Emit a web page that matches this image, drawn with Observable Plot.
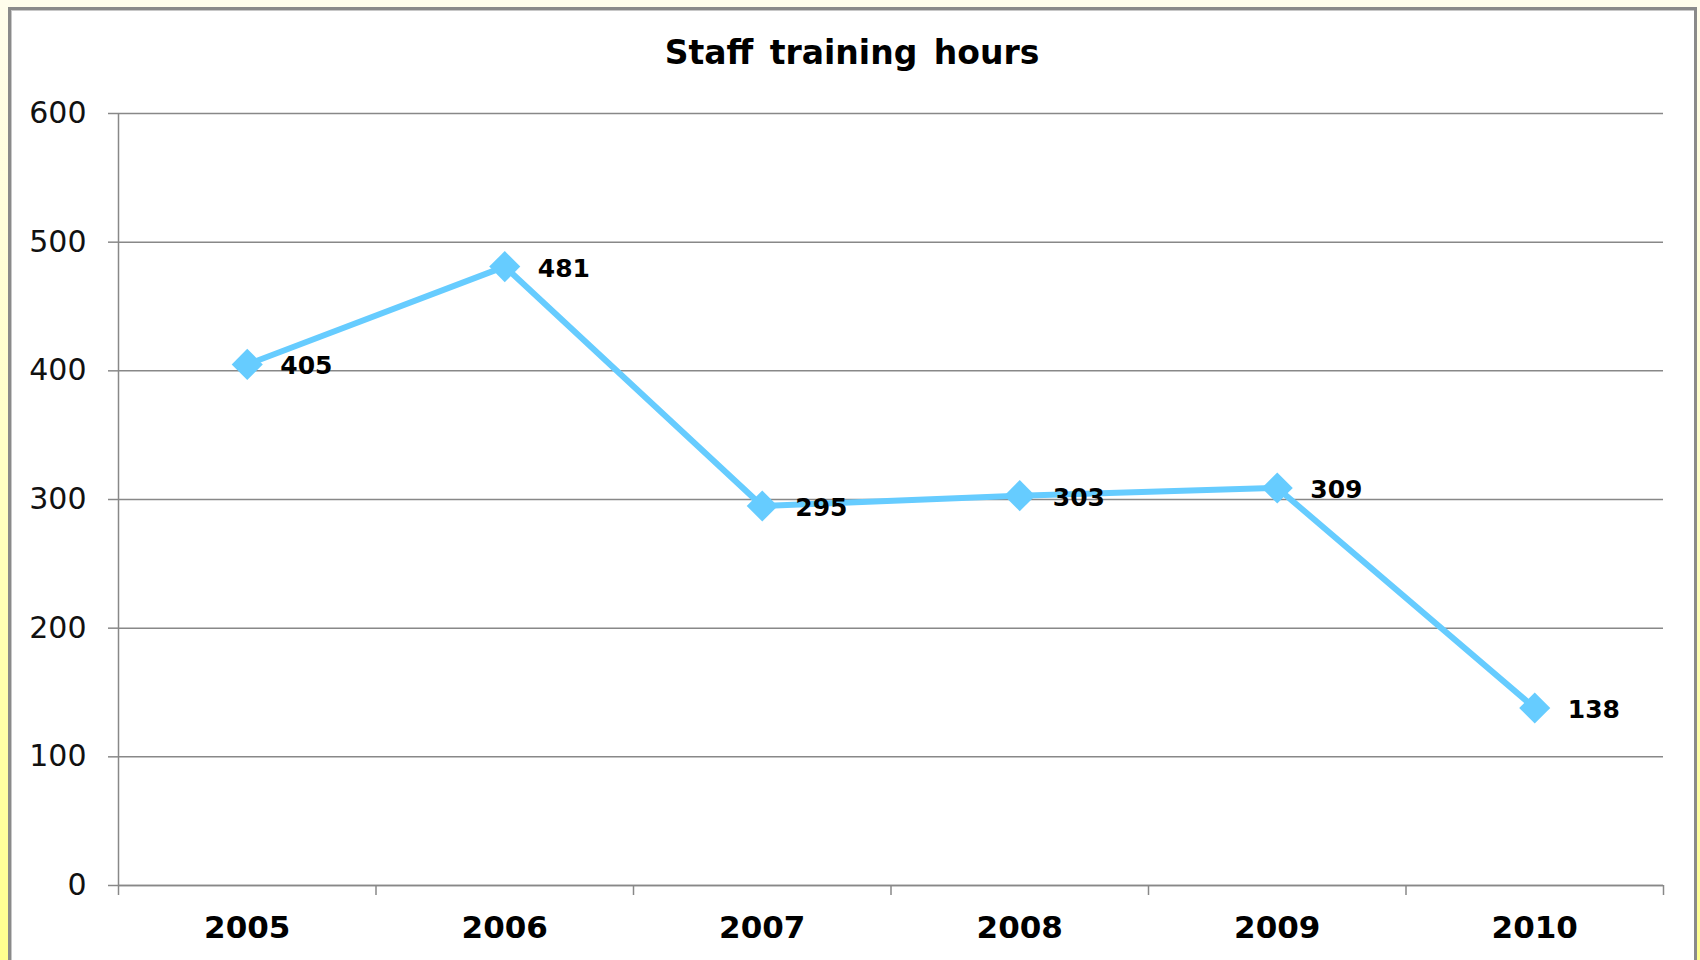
<!DOCTYPE html>
<html>
<head>
<meta charset="utf-8">
<script src="https://cdn.jsdelivr.net/npm/d3@7"></script>
<script src="https://cdn.jsdelivr.net/npm/@observablehq/plot@0.6"></script>
<style>
  html, body { margin: 0; padding: 0; }
  body {
    width: 1700px; height: 960px; overflow: hidden; position: relative;
    background: linear-gradient(#fffdec, #ffffc8 45%, #ffff8e);
    font-family: "DejaVu Sans", Verdana, sans-serif;
  }
  #panel {
    position: absolute; left: 8px; top: 7px; width: 1689px; height: 1010px;
    box-sizing: border-box; background: #fff;
    border: 3px solid #8a8a8a;
    box-shadow: inset 1px 1px 0 #c8c8c8;
  }
  #title {
    position: absolute; left: 0; top: 33px; width: 1704px; text-align: center;
    font-size: 33px; line-height: 40px; font-weight: bold; color: #000;
    word-spacing: 5px;
  }
  #chart { position: absolute; left: 0; top: 0; }
  #chart svg { overflow: visible; }
</style>
</head>
<body>
<div id="panel"></div>
<div id="title">Staff training hours</div>
<div id="chart"></div>
<script>
const years = [2005, 2006, 2007, 2008, 2009, 2010];
const hours = [405, 481, 295, 303, 309, 138];
const yTicks = [0, 100, 200, 300, 400, 500, 600];

const data = years.map((year, i) => ({year, hours: hours[i]}));
const xStart = years[0] - 0.5;
const xEnd = years[years.length - 1] + 0.5;
const boundaries = years.map(y => y - 0.5).concat([xEnd]);

const gridColor = "#888888";
const lineColor = "#66CCFF";

const chart = Plot.plot({
  width: 1700,
  height: 960,
  marginLeft: 118,
  marginRight: 37,
  marginTop: 113,
  marginBottom: 75,
  style: {background: "transparent", fontFamily: "DejaVu Sans, Verdana, sans-serif", color: "#000"},
  x: {type: "linear", domain: [xStart, xEnd]},
  y: {domain: [0, 600]},
  marks: [
    Plot.gridY(yTicks, {stroke: gridColor, strokeOpacity: 1, strokeWidth: 1.5}),
    Plot.ruleX([xStart], {stroke: gridColor, strokeWidth: 1.5}),
    Plot.ruleY([0], {stroke: gridColor, strokeWidth: 1.5}),
    Plot.axisY(yTicks, {tickSize: 10, tickPadding: 22, fontSize: 30, stroke: gridColor, strokeWidth: 1.5, fill: "#111", label: null}),
    Plot.axisX(boundaries, {tickSize: 10, tickFormat: () => "", stroke: gridColor, strokeWidth: 1.5, label: null}),
    Plot.axisX(years, {tickSize: 0, tickPadding: 30, tickFormat: "d", fontSize: 31, fontWeight: "bold", fill: "#000", label: null}),
    Plot.line(data, {x: "year", y: "hours", stroke: lineColor, strokeWidth: 6}),
    Plot.dot(data, {x: "year", y: "hours", symbol: "diamond2", r: 14, fill: lineColor, stroke: "none"}),
    Plot.text(data, {x: "year", y: "hours", text: d => String(d.hours), dx: 33, dy: 2, textAnchor: "start", fontSize: 25, fontWeight: "bold", fill: "#000"})
  ]
});
document.getElementById("chart").appendChild(chart);
</script>
</body>
</html>
